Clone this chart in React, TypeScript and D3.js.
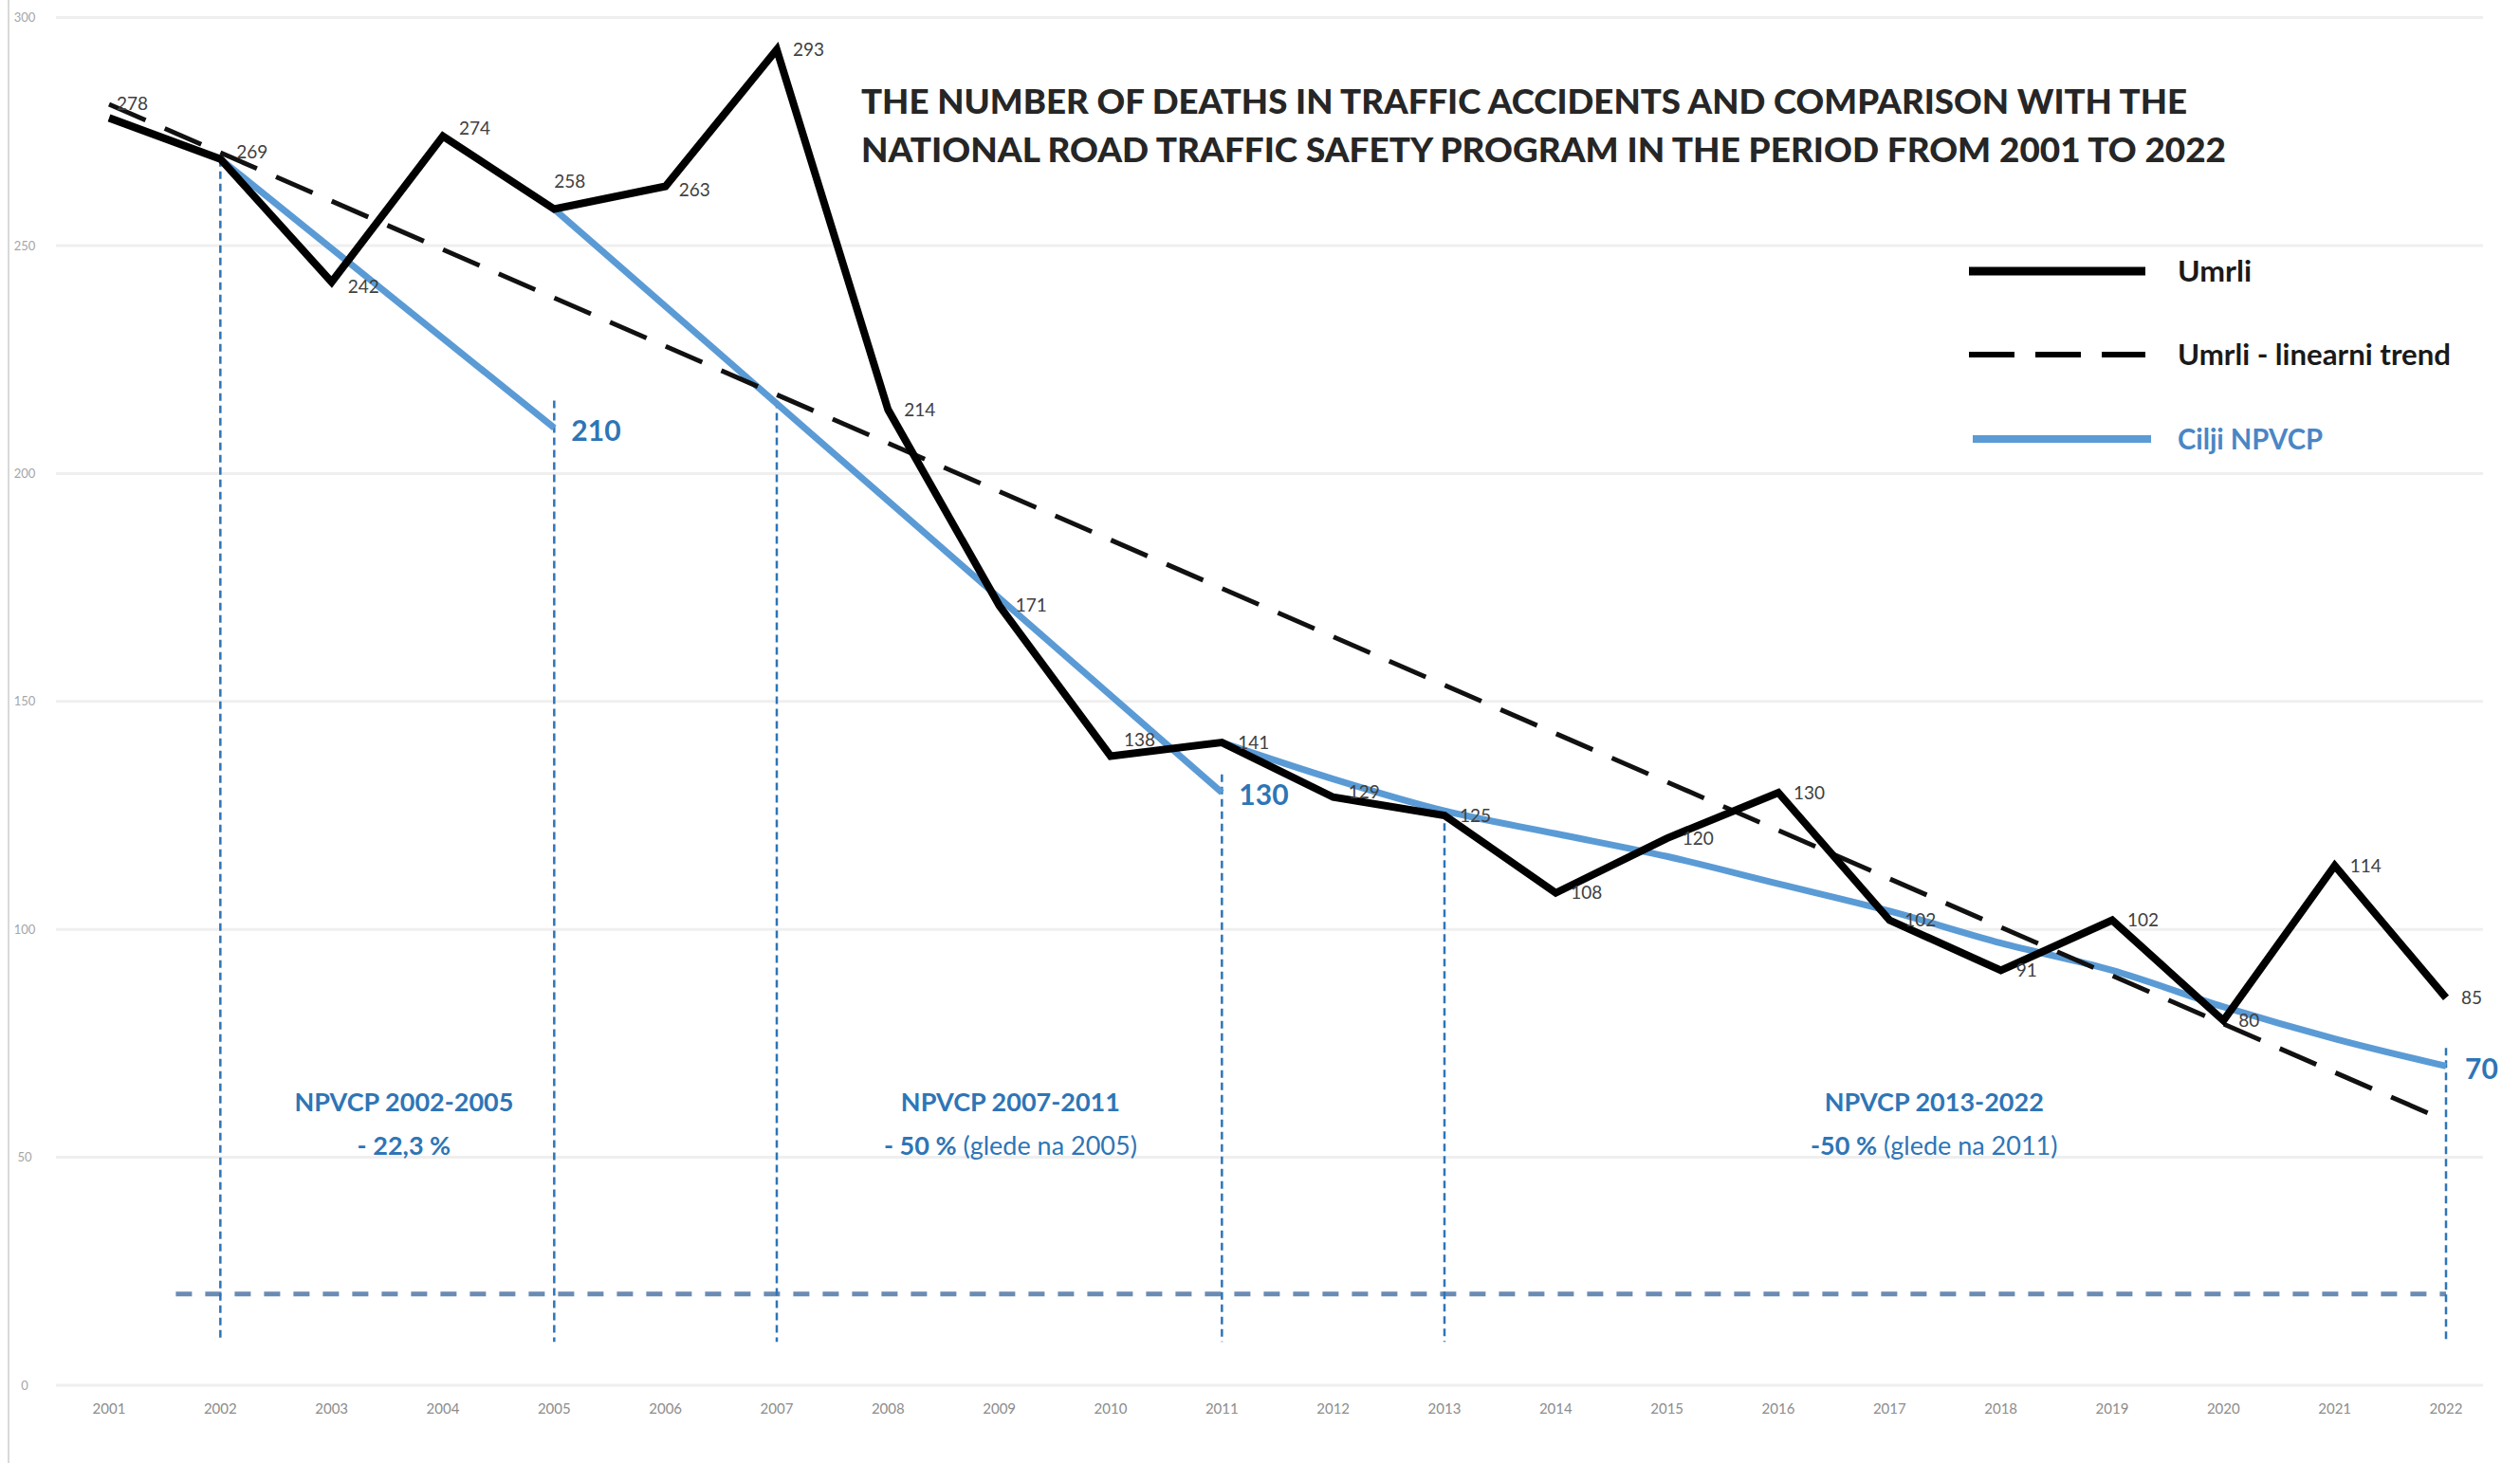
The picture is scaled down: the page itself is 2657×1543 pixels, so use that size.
import React, { useEffect, useRef } from 'react';
import * as d3 from 'd3';

// deaths per year (Umrli)
const years = [2001, 2002, 2003, 2004, 2005, 2006, 2007, 2008, 2009, 2010, 2011, 2012, 2013, 2014, 2015, 2016, 2017, 2018, 2019, 2020, 2021, 2022];
const deaths = [278, 269, 242, 274, 258, 263, 293, 214, 171, 138, 141, 129, 125, 108, 120, 130, 102, 91, 102, 80, 114, 85];

// linear trend end points
const trendYears = [2001, 2022];
const trendValues = [281, 58];

// NPVCP targets
const goal1Years = [2002, 2005];
const goal1Values = [269, 210];
const goal2Years = [2005, 2011];
const goal2Values = [258, 130];
const goal3Years = [2011, 2012, 2013, 2014, 2015, 2016, 2017, 2018, 2019, 2020, 2021, 2022];
const goal3Values = [141, 133, 126, 121, 116, 110, 104, 97, 91, 83, 76, 70];
const goalLabelYears = [2005, 2011, 2022];
const goalLabelValues = [210, 130, 70];

// program period markers
const markerYears = [2002, 2005, 2007, 2011, 2013, 2022];
const markerTops = [269, 216, 216, 134, 126, 74];
const markerBottom = 9.5;
const baselineValue = 20;
const baselineFrom = 2001.6;

const yTicks = [0, 50, 100, 150, 200, 250, 300];

const programNames = ['NPVCP 2002-2005', 'NPVCP 2007-2011', 'NPVCP 2013-2022'];
const programCuts = ['- 22,3 %', '- 50 %', '-50 %'];
const programBases = ['', ' (glede na 2005)', ' (glede na 2011)'];
const programCenters = [2003.65, 2009.1, 2017.4];

const legendLabels = ['Umrli', 'Umrli - linearni trend', 'Cilji NPVCP'];
const titleLines = [
  'THE NUMBER OF DEATHS IN TRAFFIC ACCIDENTS AND COMPARISON WITH THE',
  'NATIONAL ROAD TRAFFIC SAFETY PROGRAM IN THE PERIOD FROM 2001 TO 2022',
];

// label nudges (px) for the death value labels
const labelNudge = [[8, -15], [17, -7], [17, 5], [17, -8], [0, -29], [14, 4], [17, 0], [17, 0], [17, 0], [14, -17], [17, 0], [16, -5], [16, 0], [16, 0], [16, 0], [16, 0], [16, 0], [16, 0], [16, 0], [16, 0], [16, 0], [16, 0]];

const W = 2657;
const H = 1543;
const FONT = 'Lato, "Open Sans", sans-serif';
const BLUE = '#5B9BD5';
const BLUE_TXT = '#2E75B6';

export default function App() {
  const ref = useRef(null);

  useEffect(() => {
    document.body.style.margin = '0';
    document.body.style.overflow = 'hidden';
    const svg = d3.select(ref.current);
    svg.selectAll('*').remove();

    const x = d3.scaleLinear().domain([2001, 2022]).range([115, 2579]);
    const y = d3.scaleLinear().domain([0, 300]).range([1461, 18.6]);

    svg.append('rect').attr('width', W).attr('height', H).attr('fill', '#fff');
    svg.append('line').attr('x1', 9).attr('x2', 9).attr('y1', 0).attr('y2', H)
      .attr('stroke', '#d9d9d9').attr('stroke-width', 2);

    // gridlines + y labels
    const g = svg.append('g');
    g.selectAll('line.grid').data(yTicks).enter().append('line')
      .attr('x1', 59).attr('x2', 2618)
      .attr('y1', (d) => y(d)).attr('y2', (d) => y(d))
      .attr('stroke', '#efefef').attr('stroke-width', 3);
    g.selectAll('text.ytick').data(yTicks).enter().append('text')
      .attr('x', 26).attr('y', (d) => y(d)).attr('dy', '0.35em')
      .attr('text-anchor', 'middle').attr('font-family', FONT).attr('font-size', 13)
      .attr('fill', '#a6a6a6').text((d) => d);

    // x labels
    g.selectAll('text.xtick').data(years).enter().append('text')
      .attr('x', (d) => x(d)).attr('y', 1486).attr('dy', '0.35em')
      .attr('text-anchor', 'middle').attr('font-family', FONT).attr('font-size', 15)
      .attr('fill', '#8c8c8c').text((d) => d);

    // baseline dashed
    svg.append('line')
      .attr('x1', x(baselineFrom)).attr('x2', x(2022))
      .attr('y1', y(baselineValue)).attr('y2', y(baselineValue))
      .attr('stroke', '#6a8cb4').attr('stroke-width', 5).attr('stroke-dasharray', '17,14');

    // vertical markers
    svg.selectAll('line.marker').data(markerYears).enter().append('line')
      .attr('x1', (d) => x(d)).attr('x2', (d) => x(d))
      .attr('y1', (d, i) => y(markerTops[i])).attr('y2', y(markerBottom))
      .attr('stroke', BLUE_TXT).attr('stroke-width', 2.5).attr('stroke-dasharray', '8,5');

    const line = d3.line().x((d) => x(d[0])).y((d) => y(d[1]));

    // target lines
    const goals = [
      goal1Years.map((yr, i) => [yr, goal1Values[i]]),
      goal2Years.map((yr, i) => [yr, goal2Values[i]]),
      goal3Years.map((yr, i) => [yr, goal3Values[i]]),
    ];
    const curved = d3.line().x((d) => x(d[0])).y((d) => y(d[1])).curve(d3.curveMonotoneX);
    goals.forEach((pts) => {
      svg.append('path').attr('d', curved(pts)).attr('fill', 'none')
        .attr('stroke', BLUE).attr('stroke-width', 7);
    });

    // trend
    svg.append('path')
      .attr('d', line(trendYears.map((yr, i) => [yr, trendValues[i]])))
      .attr('fill', 'none').attr('stroke', '#111').attr('stroke-width', 5)
      .attr('stroke-dasharray', '42,22');

    // deaths
    svg.append('path')
      .attr('d', line(years.map((yr, i) => [yr, deaths[i]])))
      .attr('fill', 'none').attr('stroke', '#000').attr('stroke-width', 8)
      .attr('stroke-linejoin', 'miter');

    svg.selectAll('text.val').data(deaths).enter().append('text')
      .attr('x', (d, i) => x(years[i]) + labelNudge[i][0])
      .attr('y', (d, i) => y(d) + labelNudge[i][1])
      .attr('dy', '0.35em').attr('font-family', FONT).attr('font-size', 19)
      .attr('fill', '#404040').text((d) => d);

    // goal labels
    svg.selectAll('text.goal').data(goalLabelValues).enter().append('text')
      .attr('x', (d, i) => x(goalLabelYears[i]) + (i === 2 ? 20 : 18))
      .attr('y', (d) => y(d) + 3)
      .attr('dy', '0.35em').attr('font-family', FONT).attr('font-size', 30)
      .attr('font-weight', 700).attr('fill', BLUE_TXT).text((d) => d);

    // program annotations
    programNames.forEach((name, i) => {
      svg.append('text').attr('x', x(programCenters[i])).attr('y', y(62))
        .attr('dy', '0.35em').attr('text-anchor', 'middle').attr('font-family', FONT)
        .attr('font-size', 27).attr('font-weight', 700).attr('fill', BLUE_TXT).text(name);
      const t = svg.append('text').attr('x', x(programCenters[i])).attr('y', y(52.6))
        .attr('dy', '0.35em').attr('text-anchor', 'middle').attr('font-family', FONT)
        .attr('font-size', 27).attr('fill', BLUE_TXT);
      t.append('tspan').attr('font-weight', 700).text(programCuts[i]);
      if (programBases[i]) t.append('tspan').attr('font-weight', 400).text(programBases[i]);
    });

    // title
    const titleWidths = [1398, 1439];
    titleLines.forEach((s, i) => {
      svg.append('text').attr('x', 908).attr('y', 107 + i * 51).attr('dy', '0.35em')
        .attr('font-family', FONT).attr('font-size', 36).attr('font-weight', 900)
        .attr('fill', '#262626').attr('textLength', titleWidths[i])
        .attr('lengthAdjust', 'spacingAndGlyphs').text(s);
    });

    // legend
    const legendY = [286, 374, 463];
    const legendWidths = [78, 288, 153];
    const lg = svg.append('g');
    lg.append('line').attr('x1', 2076).attr('x2', 2262).attr('y1', legendY[0]).attr('y2', legendY[0])
      .attr('stroke', '#000').attr('stroke-width', 9);
    lg.append('line').attr('x1', 2076).attr('x2', 2262).attr('y1', legendY[1]).attr('y2', legendY[1])
      .attr('stroke', '#000').attr('stroke-width', 6).attr('stroke-dasharray', '48,22');
    lg.append('line').attr('x1', 2080).attr('x2', 2268).attr('y1', legendY[2]).attr('y2', legendY[2])
      .attr('stroke', BLUE).attr('stroke-width', 8);
    legendLabels.forEach((s, i) => {
      lg.append('text').attr('x', 2296).attr('y', legendY[i]).attr('dy', '0.35em')
        .attr('font-family', FONT).attr('font-size', 30).attr('font-weight', 700)
        .attr('textLength', legendWidths[i]).attr('lengthAdjust', 'spacingAndGlyphs')
        .attr('fill', i === 2 ? '#4a86c5' : '#1a1a1a').text(s);
    });
  }, []);

  return <svg ref={ref} width={W} height={H} style={{ display: 'block' }}></svg>;
}
